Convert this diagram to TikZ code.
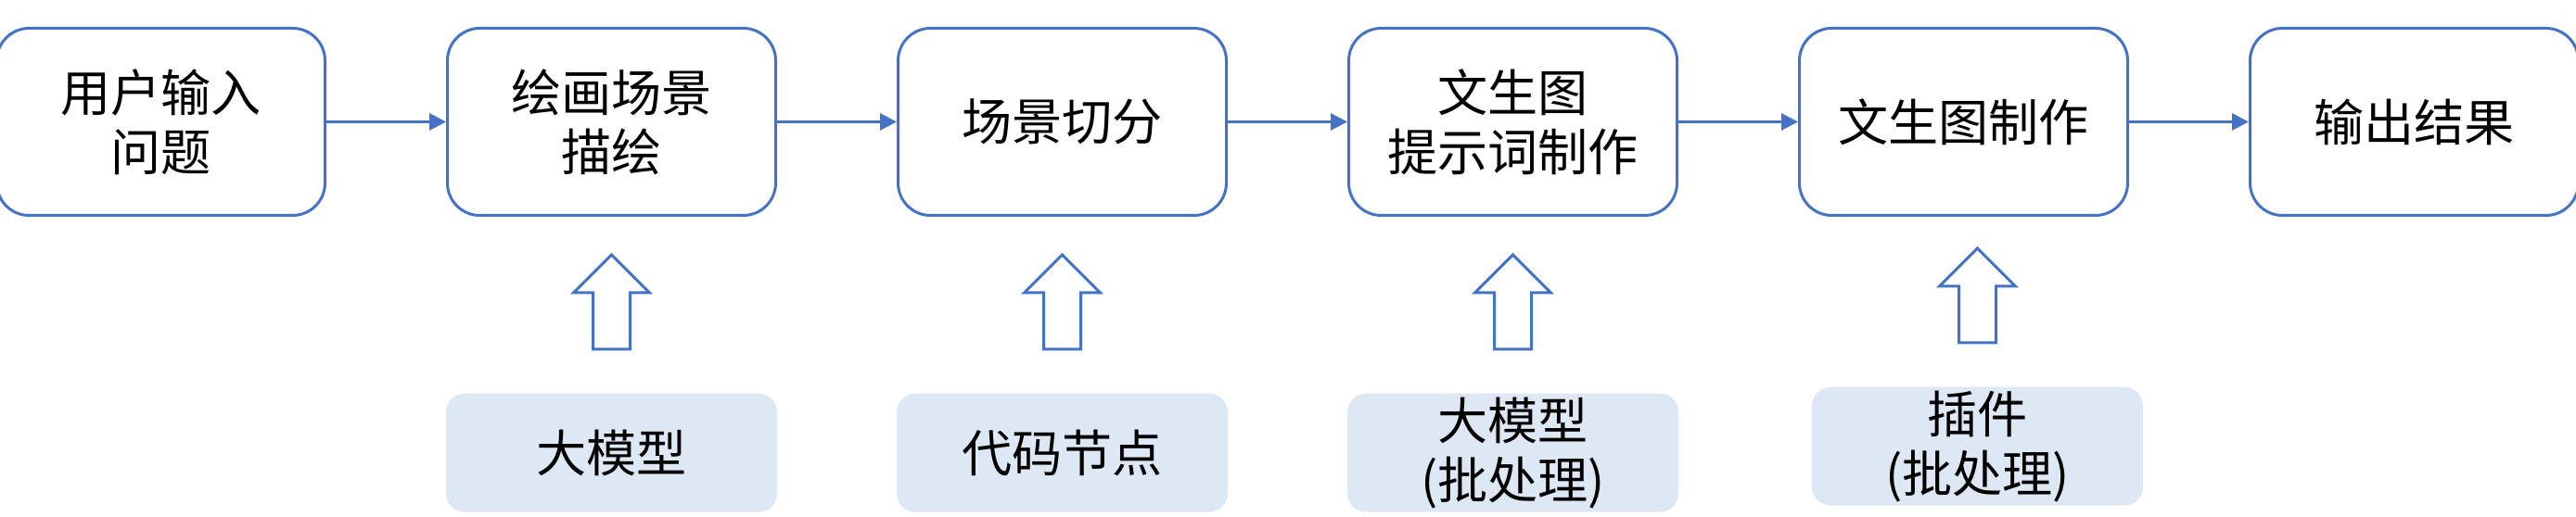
\documentclass[tikz,border=0pt]{standalone}
\usepackage{fontspec}
\newfontfamily\cjk{Noto Sans CJK SC}
\usetikzlibrary{arrows.meta,positioning,calc}
\definecolor{boxblue}{HTML}{4472C4}
\definecolor{paleblue}{HTML}{DEE8F5}

\begin{document}
\begin{tikzpicture}[
    every node/.style={font=\cjk\fontsize{15.4pt}{18.2pt}\selectfont, align=center},
    stage/.style={draw=boxblue, line width=0.03cm, rounded corners=0.35cm, minimum width=3.54cm, minimum height=2.02cm},
    tool/.style={fill=paleblue, rounded corners=0.2cm, inner sep=0pt, minimum width=3.57cm, minimum height=1.28cm},
    flow/.style={draw=boxblue, line width=0.03cm, -{Triangle[length=0.18cm,width=0.18cm]}},
    hollowup/.style={draw=boxblue, line width=0.03cm, fill=white}]
\useasboundingbox (0,0) rectangle (27.78,-5.58);

\node[stage] (b1) at (1.735,-1.315) {用户输入\\问题};
\node[stage] (b2) [right=1.29cm of b1] {绘画场景\\描绘};
\node[stage] (b3) [right=1.29cm of b2] {场景切分};
\node[stage] (b4) [right=1.29cm of b3] {文生图\\提示词制作};
\node[stage] (b5) [right=1.29cm of b4] {文生图制作};
\node[stage] (b6) [right=1.29cm of b5] {输出结果};

\node[tool] (m2) [below=1.9cm of b2] {大模型};
\node[tool] (m3) [below=1.9cm of b3] {代码节点};
\node[tool] (m4) [below=1.9cm of b4] {大模型\\(批处理)};
\node[tool] (m5) [below=1.83cm of b5, xshift=0.15cm] {插件\\(批处理)};

\foreach \i [count=\j from 2] in {1,...,5}
    \draw[flow] (b\i) -- (b\j);

\foreach \i in {2,...,5}
    \draw[hollowup] ($(m\i.north)+(0,1.49)$) -- ++(0.41,-0.41) -- ++(-0.21,0) -- ++(0,-0.61)
        -- ++(-0.40,0) -- ++(0,0.61) -- ++(-0.21,0) -- cycle;
\end{tikzpicture}
\end{document}
